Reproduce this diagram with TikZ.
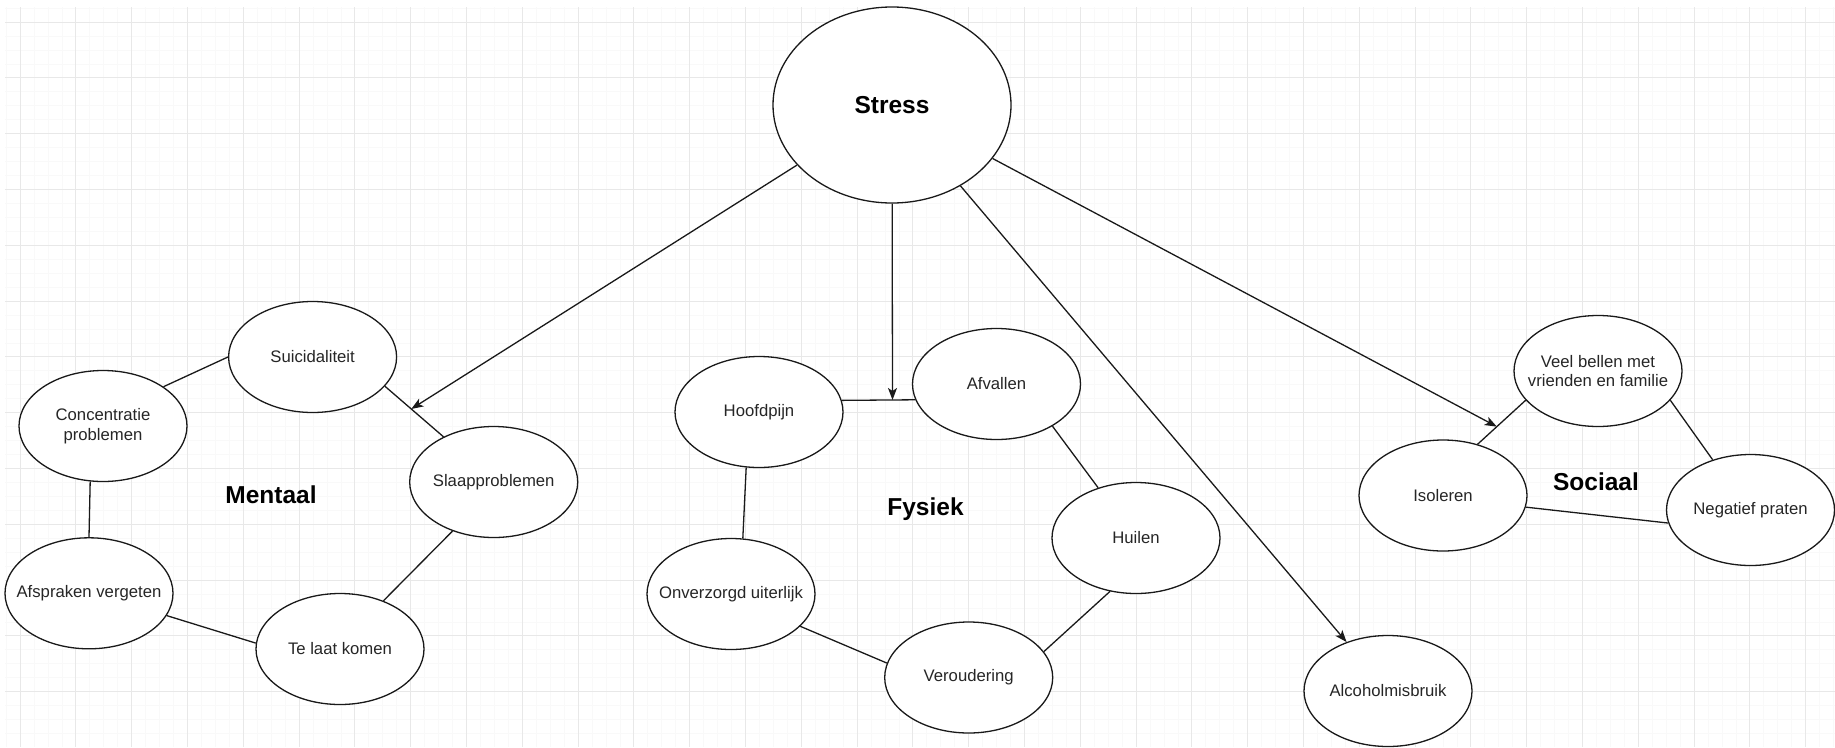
\documentclass[tikz,border=0pt]{standalone}
\usepackage{fontspec}
\setmainfont{Liberation Sans}
\usetikzlibrary{shapes.geometric,arrows.meta}

\tikzset{
  blob/.style={ellipse, draw=black!90, line width=1.3pt, fill=white,
    minimum width=168pt, minimum height=111pt, inner xsep=-25pt, inner ysep=0pt,
    align=center, text=black!85, font=\fontsize{16.7}{19.5}\selectfont},
  groep/.style={font=\fontsize{24.5}{28}\selectfont\bfseries},
  lijn/.style={line width=1.3pt, draw=black!90},
  pijl/.style={lijn, -{Stealth[length=12pt,width=9pt,inset=3pt]}},
}

\begin{document}
\begin{tikzpicture}[x=1pt,y=-1pt]
	\useasboundingbox (0,0) rectangle (1835,747);

	% raster
	\foreach \k in {0,...,131}
		\draw[gray!5, line width=0.7pt] ({6.05+13.95*\k},7) -- ({6.05+13.95*\k},747);
	\foreach \k in {0,...,52}
		\draw[gray!5, line width=0.7pt] (5,{8.05+13.95*\k}) -- (1835,{8.05+13.95*\k});
	\foreach \k in {0,...,32}
		\draw[gray!18, line width=0.8pt] ({20+55.8*\k},7) -- ({20+55.8*\k},747);
	\foreach \k in {0,...,12}
		\draw[gray!18, line width=0.8pt] (5,{22+55.8*\k}) -- (1835,{22+55.8*\k});

	\node[blob, minimum width=238pt, minimum height=196pt, text=black,
		font=\fontsize{24.5}{28}\selectfont\bfseries] (stress) at (892,105) {Stress};

	% Mentaal
	\node[blob] (suic) at (312.6,357) {Suicidaliteit};
	\node[blob] (conc) at (103,426) {Concentratie\\problemen};
	\node[blob] (slaap) at (493.7,482) {Slaapproblemen};
	\node[blob] (afspr) at (89,593.3) {Afspraken vergeten};
	\node[blob] (telaat) at (340,649) {Te laat komen};
	\node[groep] (mentaal) at (271,495) {Mentaal};

	\draw[lijn] (suic.180) -- (conc.33);
	\draw[lijn] (suic.-22) -- coordinate[pos=0.45] (m1) (slaap.138);
	\draw[lijn] (conc.-103) -- (afspr.90);
	\draw[lijn] (afspr.-16) -- (telaat.176);
	\draw[lijn] (telaat.48) -- (slaap.230);

	% Fysiek
	\node[blob] (hoofd) at (759,412) {Hoofdpijn};
	\node[blob] (afval) at (996.5,384) {Afvallen};
	\node[blob] (huilen) at (1136,538) {Huilen};
	\node[blob] (onverz) at (731,594) {Onverzorgd uiterlijk};
	\node[blob] (verou) at (968.7,677.5) {Veroudering};
	\node[groep] (fysiek) at (925.5,509.3) {Fysiek};

	\draw[lijn] (hoofd.8) -- coordinate[pos=0.69] (m2) (afval.191);
	\draw[lijn] (hoofd.-103) -- (onverz.78);
	\draw[lijn] (afval.-37) -- (huilen.127);
	\draw[lijn] (huilen.244) -- (verou.19);
	\draw[lijn] (onverz.-25) -- (verou.170);

	% Sociaal
	\node[blob] (bellen) at (1598,371) {Veel bellen met\\vrienden en familie};
	\node[blob] (isol) at (1443,495.5) {Isoleren};
	\node[blob] (negatief) at (1750.5,510) {Negatief praten};
	\node[groep] (sociaal) at (1596,481.7) {Sociaal};

	\draw[lijn] (isol.56) -- coordinate[pos=0.4] (m3) (bellen.202);
	\draw[lijn] (bellen.-22) -- (negatief.127);
	\draw[lijn] (isol.-8) -- (negatief.189);

	\node[blob] (alcohol) at (1388,691) {Alcoholmisbruik};

	% pijlen vanuit Stress
	\draw[pijl] (stress) -- (m1);
	\draw[pijl] (stress) -- (m2);
	\draw[pijl] (stress) -- (m3);
	\draw[pijl] (stress) -- (alcohol);
\end{tikzpicture}
\end{document}
